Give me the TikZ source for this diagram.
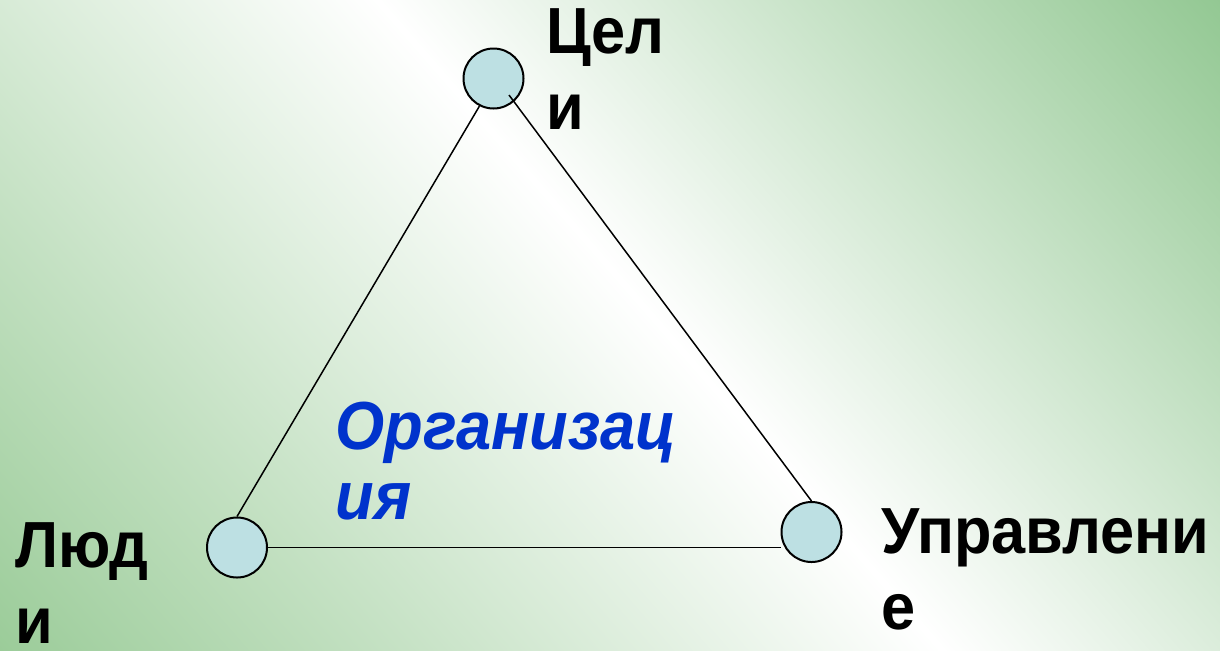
\documentclass[tikz,border=0pt]{standalone}
\usepackage{fontspec}
\setmainfont{Liberation Sans}
\newfontfamily\lblfont{Liberation Sans}[FakeStretch=0.94]
\newfontfamily\orgfont{Liberation Sans}[FakeStretch=0.93]
\usetikzlibrary{calc}
\definecolor{gL}{HTML}{9BCC99}
\definecolor{gR}{HTML}{93C893}
\definecolor{circfill}{HTML}{BDE0E3}
\definecolor{orgblue}{HTML}{0033CC}
\begin{document}
\begin{tikzpicture}[x=0.5pt,y=-0.5pt,
  dot/.style={circle,draw=black,line width=1pt,fill=circfill,minimum size=30pt,inner sep=0pt},
  conn/.style={draw=black,line width=0.75pt},
  lbl/.style={font=\lblfont\bfseries\fontsize{32.6}{38.3}\selectfont,align=left,inner sep=0pt,anchor=north west},
  org/.style={font=\orgfont\bfseries\itshape\fontsize{34}{35}\selectfont,text=orgblue,align=left,inner sep=0pt,anchor=north west}]
\useasboundingbox (0,0) rectangle (1220,650);
% background gradient
\begin{scope}
\clip (0,0) rectangle (1220,650);
\begin{scope}[transform canvas={rotate around={41:(660,325)}}]
\fill[gL] (-1300,-1000) rectangle (-52,1700);
\shade[left color=gL,right color=white] (-52,-1000) rectangle (660,1700);
\shade[left color=white,right color=gR] (660,-1000) rectangle (1296,1700);
\fill[gR] (1296,-1000) rectangle (2600,1700);
\end{scope}
\end{scope}
% circles
\node[dot] (T) at (493.5,78.5) {};
\node[dot] (L) at (237,547.5) {};
\node[dot] (R) at (811.5,532) {};
\coordinate (t2) at ($(T.center)+(15.5,16.5)$);
% connectors
\draw[conn] (T.243) -- (L.north);
\draw[conn] (t2) -- (R.north);
\draw[conn] (L.east) -- (L.east -| R.west);
% labels
\node[lbl] (celi) at (546,8) {Цел\\и};
\node[lbl] (lyudi) at (15,522) {Люд\\и};
\node[lbl] (upr) at (881,508) {Управлени\\е};
\node[org] (orgn) at (335,402) {Организац\\ия};
\end{tikzpicture}
\end{document}
